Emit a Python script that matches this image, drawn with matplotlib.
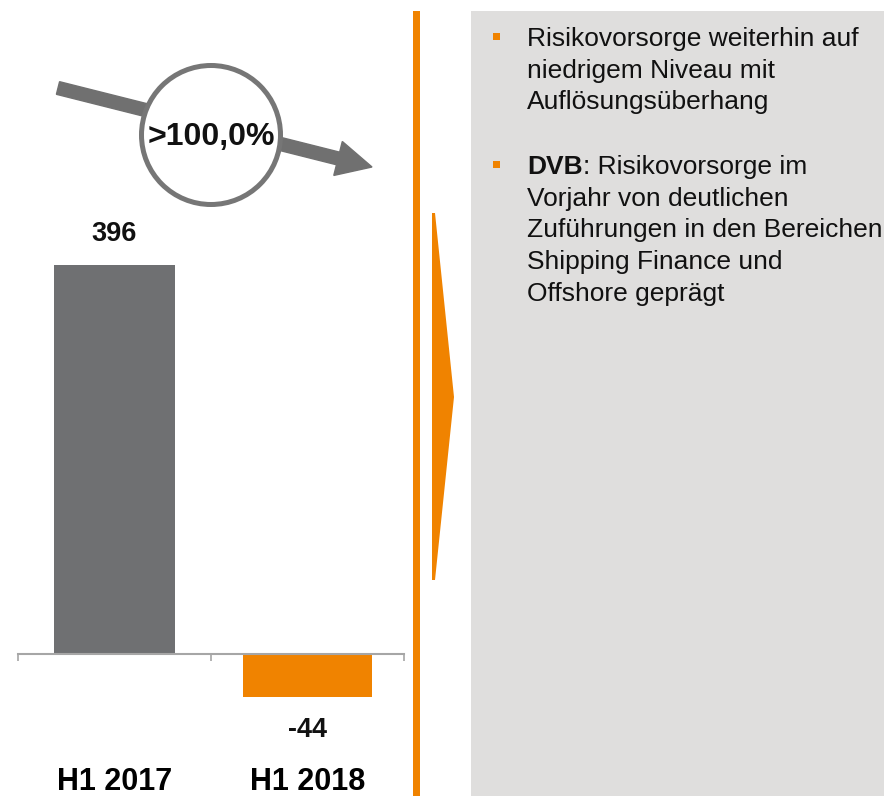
import matplotlib
matplotlib.use("Agg")
import matplotlib.pyplot as plt
from matplotlib.patches import Circle, FancyArrow, Polygon, Rectangle

plt.rcParams['font.family'] = ['Liberation Sans', 'DejaVu Sans']

# ---- data ----
categories = ["H1 2017", "H1 2018"]
values = [396, -44]
bar_colors = ["#6f7072", "#f08300"]
change_label = ">100,0%"
bullet1_lines = ["Risikovorsorge weiterhin auf", "niedrigem Niveau mit", "Auflösungsüberhang"]
bullet2_bold = "DVB"
bullet2_first_rest = ": Risikovorsorge im"
bullet2_lines = ["Vorjahr von deutlichen", "Zuführungen in den Bereichen",
                 "Shipping Finance und", "Offshore geprägt"]

W, H = 884, 796
DPI = 100
ORANGE = "#f08300"
GREY_ARROW = "#707070"
AXIS_GREY = "#a6a6a6"
TEXT = "#111111"

fig = plt.figure(figsize=(W / DPI, H / DPI), dpi=DPI)
fig.patch.set_facecolor("white")

# ---- bar axes ----
zero_px = 654
px_per_unit = 0.982
ymin, ymax = -60, 420
top_px = zero_px - ymax * px_per_unit
bot_px = zero_px - ymin * px_per_unit
ax = fig.add_axes([18 / W, (H - bot_px) / H, 386 / W, (bot_px - top_px) / H])
ax.set_xlim(-0.5, 1.5)
ax.set_ylim(ymin, ymax)
x = list(range(len(categories)))
ax.bar(x, values, width=[0.627, 0.668], color=bar_colors, zorder=2)
for s in ["top", "right", "left"]:
    ax.spines[s].set_visible(False)
ax.spines["bottom"].set_position(("data", 0))
ax.spines["bottom"].set_color(AXIS_GREY)
ax.spines["bottom"].set_linewidth(1.5)
ax.set_yticks([])
ax.set_xticks(x)
ax.set_xticklabels(categories, fontsize=22, fontweight="bold", color="black")
ax.tick_params(axis="x", which="major", length=0, pad=81)
ax.set_xticks([-0.5, 0.5, 1.5], minor=True)
ax.tick_params(axis="x", which="minor", length=5, width=1.2, color=AXIS_GREY, direction="out")
ax.patch.set_alpha(0)

for xi, v in zip(x, values):
    off = 24 if v >= 0 else -40
    ax.annotate(f"{v}", xy=(xi, v), xytext=(0, off), textcoords="offset pixels",
                ha="center", va="baseline", fontsize=19.5, fontweight="bold", color=TEXT)

# ---- overlay (pixel coordinates) ----
ov = fig.add_axes([0, 0, 1, 1])
ov.set_xlim(0, W)
ov.set_ylim(H, 0)
ov.axis("off")
ov.patch.set_alpha(0)

# grey panel
ov.add_patch(Rectangle((471, 11), W - 471, H - 11, facecolor="#dfdedd", edgecolor="none", zorder=0))
# orange divider
ov.add_patch(Rectangle((413, 11), 7, H - 11, facecolor=ORANGE, edgecolor="none", zorder=1))
# orange wedge
ov.add_patch(Polygon([(432, 213), (435, 213), (454, 397), (435, 580), (432, 580)],
                     closed=True, facecolor=ORANGE, edgecolor="none", zorder=1))

# arrow + circle
ov.add_patch(FancyArrow(58, 88, 372 - 58, 167 - 88, width=13, head_width=35, head_length=35,
                        length_includes_head=True, color=GREY_ARROW, zorder=2))
ov.add_patch(Circle((211, 135), 69.5, facecolor="white", edgecolor="#767676", linewidth=3.6, zorder=3))
ov.text(211, 137, change_label, ha="center", va="center", fontsize=23, fontweight="bold",
        color=TEXT, zorder=4)

# bullet text
fs = 19
tx = 527
bullet_x = 496.5
lh = 31.7
y0 = 46
for i, line in enumerate(bullet1_lines):
    ov.text(tx, y0 + i * lh, line, fontsize=fs, color=TEXT, va="baseline", ha="left")
ov.add_patch(Rectangle((bullet_x - 3.5, 33), 7, 7, facecolor=ORANGE, edgecolor="none"))

y1 = 174
tb = ov.text(tx, y1, bullet2_bold, fontsize=fs, fontweight="bold", color=TEXT, va="baseline", ha="left")
fig.canvas.draw()
bb = tb.get_window_extent(renderer=fig.canvas.get_renderer())
x_after = ov.transData.inverted().transform((bb.x1, bb.y0))[0]
ov.text(x_after, y1, bullet2_first_rest, fontsize=fs, color=TEXT, va="baseline", ha="left")
for i, line in enumerate(bullet2_lines):
    ov.text(tx, y1 + (i + 1) * lh, line, fontsize=fs, color=TEXT, va="baseline", ha="left")
ov.add_patch(Rectangle((bullet_x - 3.5, 33 + (y1 - y0)), 7, 7, facecolor=ORANGE, edgecolor="none"))

fig.savefig("out.png", dpi=DPI)
